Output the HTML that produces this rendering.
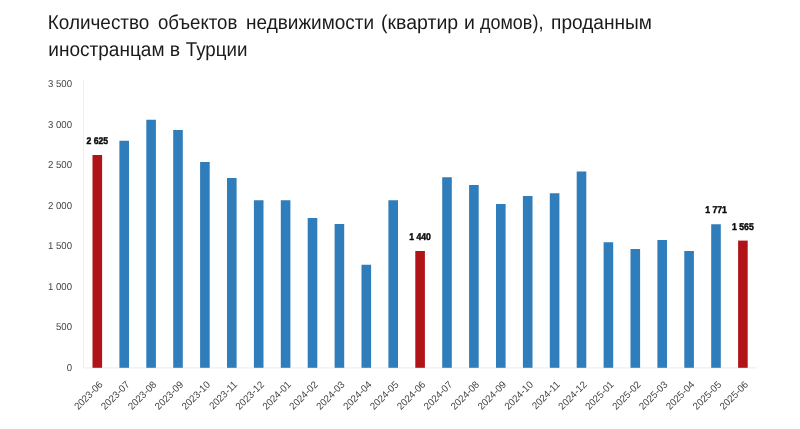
<!DOCTYPE html>
<html lang="ru"><head><meta charset="utf-8"><title>Количество объектов недвижимости</title>
<style>
html,body{margin:0;padding:0;background:#fff;}
body{width:800px;height:429px;overflow:hidden;font-family:"Liberation Sans",sans-serif;}
svg{display:block;}
text{text-rendering:geometricPrecision;}
.t text{font-family:"Liberation Sans",sans-serif;font-size:20px;fill:#1a1a1a;}
.yl{font-family:"Liberation Sans",sans-serif;font-size:10px;fill:#424242;text-anchor:end;}
.xl{font-family:"Liberation Sans",sans-serif;font-size:10px;fill:#424242;text-anchor:end;}
.vl{font-family:"Liberation Sans",sans-serif;font-size:9.8px;font-weight:bold;fill:#0a0a0a;stroke:#0a0a0a;stroke-width:0.45px;text-anchor:middle;}
</style></head><body>
<svg width="800" height="429" viewBox="0 0 800 429">
<rect width="800" height="429" fill="#ffffff"/>
<g class="t">
<text transform="translate(47.8,28.5) scale(0.9456,1)">Количество</text>
<text transform="translate(158.0,28.5) scale(0.9312,1)">объектов</text>
<text transform="translate(246.05,28.5) scale(0.9489,1)">недвижимости</text>
<text transform="translate(381.03,28.5) scale(0.975,1)">(квартир</text>
<text transform="translate(464.03,28.5) scale(0.9722,1)">и</text>
<text transform="translate(480.0,28.5) scale(0.8992,1)">домов),</text>
<text transform="translate(551.04,28.5) scale(0.9553,1)">проданным</text>
<text transform="translate(48.3,55.6) scale(0.9512,1)">иностранцам</text>
<text transform="translate(169.78,55.6) scale(0.9722,1)">в</text>
<text transform="translate(185.75,55.6) scale(0.9363,1)">Турции</text>
</g>
<line x1="83.5" y1="80" x2="83.5" y2="368" stroke="#eeeeee" stroke-width="1"/>
<line x1="83" y1="367.9" x2="756.6" y2="367.9" stroke="#ececec" stroke-width="1"/>
<text class="yl" transform="translate(72,370.95) scale(0.96,1)">0</text>
<text class="yl" transform="translate(72,330.45) scale(0.96,1)">500</text>
<text class="yl" transform="translate(72,289.95) scale(0.96,1)">1 000</text>
<text class="yl" transform="translate(72,249.45) scale(0.96,1)">1 500</text>
<text class="yl" transform="translate(72,208.95) scale(0.96,1)">2 000</text>
<text class="yl" transform="translate(72,168.45) scale(0.96,1)">2 500</text>
<text class="yl" transform="translate(72,127.95) scale(0.96,1)">3 000</text>
<text class="yl" transform="translate(72,87.45) scale(0.96,1)">3 500</text>
<rect x="92.50" y="155.00" width="9.6" height="212.80" fill="#b01419"/>
<rect x="119.40" y="140.75" width="9.6" height="227.05" fill="#2f7dba"/>
<rect x="146.30" y="119.75" width="9.6" height="248.05" fill="#2f7dba"/>
<rect x="173.20" y="130.00" width="9.6" height="237.80" fill="#2f7dba"/>
<rect x="200.10" y="162.00" width="9.6" height="205.80" fill="#2f7dba"/>
<rect x="227.00" y="178.00" width="9.6" height="189.80" fill="#2f7dba"/>
<rect x="253.90" y="200.25" width="9.6" height="167.55" fill="#2f7dba"/>
<rect x="280.80" y="200.25" width="9.6" height="167.55" fill="#2f7dba"/>
<rect x="307.70" y="218.00" width="9.6" height="149.80" fill="#2f7dba"/>
<rect x="334.60" y="224.00" width="9.6" height="143.80" fill="#2f7dba"/>
<rect x="361.50" y="264.75" width="9.6" height="103.05" fill="#2f7dba"/>
<rect x="388.40" y="200.25" width="9.6" height="167.55" fill="#2f7dba"/>
<rect x="415.30" y="251.00" width="9.6" height="116.80" fill="#b01419"/>
<rect x="442.20" y="177.25" width="9.6" height="190.55" fill="#2f7dba"/>
<rect x="469.10" y="185.00" width="9.6" height="182.80" fill="#2f7dba"/>
<rect x="496.00" y="204.00" width="9.6" height="163.80" fill="#2f7dba"/>
<rect x="522.90" y="196.00" width="9.6" height="171.80" fill="#2f7dba"/>
<rect x="549.80" y="193.25" width="9.6" height="174.55" fill="#2f7dba"/>
<rect x="576.70" y="171.50" width="9.6" height="196.30" fill="#2f7dba"/>
<rect x="603.60" y="242.25" width="9.6" height="125.55" fill="#2f7dba"/>
<rect x="630.50" y="249.00" width="9.6" height="118.80" fill="#2f7dba"/>
<rect x="657.40" y="240.00" width="9.6" height="127.80" fill="#2f7dba"/>
<rect x="684.30" y="251.00" width="9.6" height="116.80" fill="#2f7dba"/>
<rect x="711.20" y="224.25" width="9.6" height="143.55" fill="#2f7dba"/>
<rect x="738.10" y="240.60" width="9.6" height="127.20" fill="#b01419"/>
<text class="vl" transform="translate(97.30,144.00) scale(0.885,1)">2 625</text>
<text class="vl" transform="translate(420.10,240.30) scale(0.885,1)">1 440</text>
<text class="vl" transform="translate(716.00,213.30) scale(0.885,1)">1 771</text>
<text class="vl" transform="translate(742.90,229.60) scale(0.885,1)">1 565</text>
<text class="xl" transform="translate(103.30,385.20) rotate(-45) scale(0.97,1)">2023-06</text>
<text class="xl" transform="translate(130.20,385.20) rotate(-45) scale(0.97,1)">2023-07</text>
<text class="xl" transform="translate(157.10,385.20) rotate(-45) scale(0.97,1)">2023-08</text>
<text class="xl" transform="translate(184.00,385.20) rotate(-45) scale(0.97,1)">2023-09</text>
<text class="xl" transform="translate(210.90,385.20) rotate(-45) scale(0.97,1)">2023-10</text>
<text class="xl" transform="translate(237.80,385.20) rotate(-45) scale(0.97,1)">2023-11</text>
<text class="xl" transform="translate(264.70,385.20) rotate(-45) scale(0.97,1)">2023-12</text>
<text class="xl" transform="translate(291.60,385.20) rotate(-45) scale(0.97,1)">2024-01</text>
<text class="xl" transform="translate(318.50,385.20) rotate(-45) scale(0.97,1)">2024-02</text>
<text class="xl" transform="translate(345.40,385.20) rotate(-45) scale(0.97,1)">2024-03</text>
<text class="xl" transform="translate(372.30,385.20) rotate(-45) scale(0.97,1)">2024-04</text>
<text class="xl" transform="translate(399.20,385.20) rotate(-45) scale(0.97,1)">2024-05</text>
<text class="xl" transform="translate(426.10,385.20) rotate(-45) scale(0.97,1)">2024-06</text>
<text class="xl" transform="translate(453.00,385.20) rotate(-45) scale(0.97,1)">2024-07</text>
<text class="xl" transform="translate(479.90,385.20) rotate(-45) scale(0.97,1)">2024-08</text>
<text class="xl" transform="translate(506.80,385.20) rotate(-45) scale(0.97,1)">2024-09</text>
<text class="xl" transform="translate(533.70,385.20) rotate(-45) scale(0.97,1)">2024-10</text>
<text class="xl" transform="translate(560.60,385.20) rotate(-45) scale(0.97,1)">2024-11</text>
<text class="xl" transform="translate(587.50,385.20) rotate(-45) scale(0.97,1)">2024-12</text>
<text class="xl" transform="translate(614.40,385.20) rotate(-45) scale(0.97,1)">2025-01</text>
<text class="xl" transform="translate(641.30,385.20) rotate(-45) scale(0.97,1)">2025-02</text>
<text class="xl" transform="translate(668.20,385.20) rotate(-45) scale(0.97,1)">2025-03</text>
<text class="xl" transform="translate(695.10,385.20) rotate(-45) scale(0.97,1)">2025-04</text>
<text class="xl" transform="translate(722.00,385.20) rotate(-45) scale(0.97,1)">2025-05</text>
<text class="xl" transform="translate(748.90,385.20) rotate(-45) scale(0.97,1)">2025-06</text>
</svg>
</body></html>
